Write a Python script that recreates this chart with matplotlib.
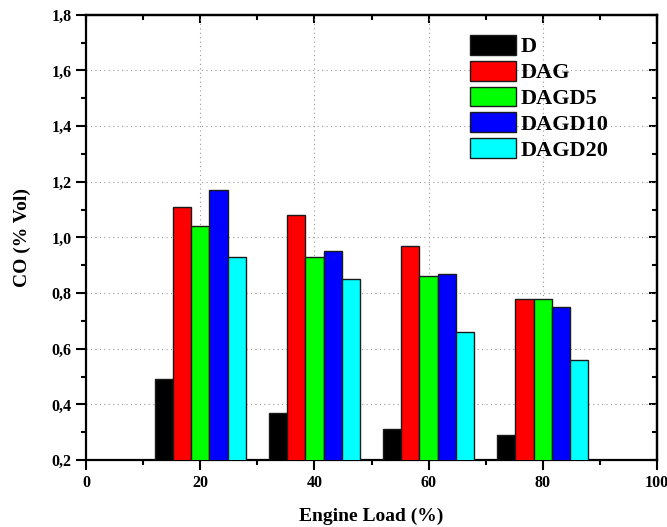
import matplotlib.pyplot as plt
from matplotlib.ticker import MultipleLocator, FuncFormatter

# donnees
charges = [20, 40, 60, 80]
series = ["D", "DAG", "DAGD5", "DAGD10", "DAGD20"]
co_D = [0.49, 0.37, 0.31, 0.29]
co_DAG = [1.11, 1.08, 0.97, 0.78]
co_DAGD5 = [1.04, 0.93, 0.86, 0.78]
co_DAGD10 = [1.17, 0.95, 0.87, 0.75]
co_DAGD20 = [0.93, 0.85, 0.66, 0.56]
valeurs = [co_D, co_DAG, co_DAGD5, co_DAGD10, co_DAGD20]
couleurs = ["#000000", "#ff0000", "#00ff00", "#0000ff", "#00ffff"]

plt.rcParams["font.family"] = "Liberation Serif"
plt.rcParams["font.weight"] = "bold"

fig = plt.figure(figsize=(6.67, 5.27), dpi=100)
ax = fig.add_axes([0.129, 0.127, 0.856, 0.845])

largeur = 3.2
for i, (nom, vals, c) in enumerate(zip(series, valeurs, couleurs)):
    pos = [x + (i - 2) * largeur for x in charges]
    ax.bar(pos, vals, width=largeur, color=c, edgecolor="#1a1a1a",
           linewidth=1.0, label=nom, zorder=3)

ax.set_xlim(0, 100)
ax.set_ylim(0.2, 1.8)
ax.xaxis.set_major_locator(MultipleLocator(20))
ax.xaxis.set_minor_locator(MultipleLocator(10))
ax.yaxis.set_major_locator(MultipleLocator(0.2))
ax.yaxis.set_minor_locator(MultipleLocator(0.1))
ax.yaxis.set_major_formatter(FuncFormatter(lambda v, p: f"{v:.1f}".replace(".", ",")))
ax.xaxis.set_major_formatter(FuncFormatter(lambda v, p: f"{v:.0f}"))

ax.grid(True, which="major", linestyle=(0, (1, 3)), color="#999999", linewidth=0.8, zorder=0)

for s in ax.spines.values():
    s.set_linewidth(1.6)
ax.tick_params(axis="both", which="both", direction="out", width=1.5,
               labelsize=11.5, top=False, right=False)
ax.tick_params(which="major", length=7, pad=3.5)
ax.tick_params(which="minor", length=3.5)
sec_x = ax.secondary_xaxis("top")
sec_x.xaxis.set_major_locator(MultipleLocator(20))
sec_x.xaxis.set_minor_locator(MultipleLocator(10))
sec_x.tick_params(which="both", direction="in", width=1.5, labeltop=False)
sec_x.tick_params(which="major", length=6)
sec_x.tick_params(which="minor", length=3.5)
sec_y = ax.secondary_yaxis("right")
sec_y.yaxis.set_major_locator(MultipleLocator(0.2))
sec_y.yaxis.set_minor_locator(MultipleLocator(0.1))
sec_y.tick_params(which="both", direction="in", width=1.5, labelright=False)
sec_y.tick_params(which="major", length=6)
sec_y.tick_params(which="minor", length=3.5)
for a in (sec_x, sec_y):
    for s in a.spines.values():
        s.set_linewidth(1.6)

for lab in ax.get_xticklabels() + ax.get_yticklabels():
    lab.set_fontweight("bold")

ax.set_xlabel("Engine Load (%)", fontsize=14, fontweight="bold", labelpad=12)
ax.set_ylabel("CO (% Vol)", fontsize=14, fontweight="bold", labelpad=15)

ax.legend(loc="upper left", bbox_to_anchor=(0.672, 0.955), frameon=False,
          borderpad=0, borderaxespad=0,
          prop={"size": 16, "weight": "bold"}, handlelength=2.1, handleheight=1.0,
          handletextpad=0.2, labelspacing=0.15)

plt.savefig("out.png", dpi=100)
plt.close()
